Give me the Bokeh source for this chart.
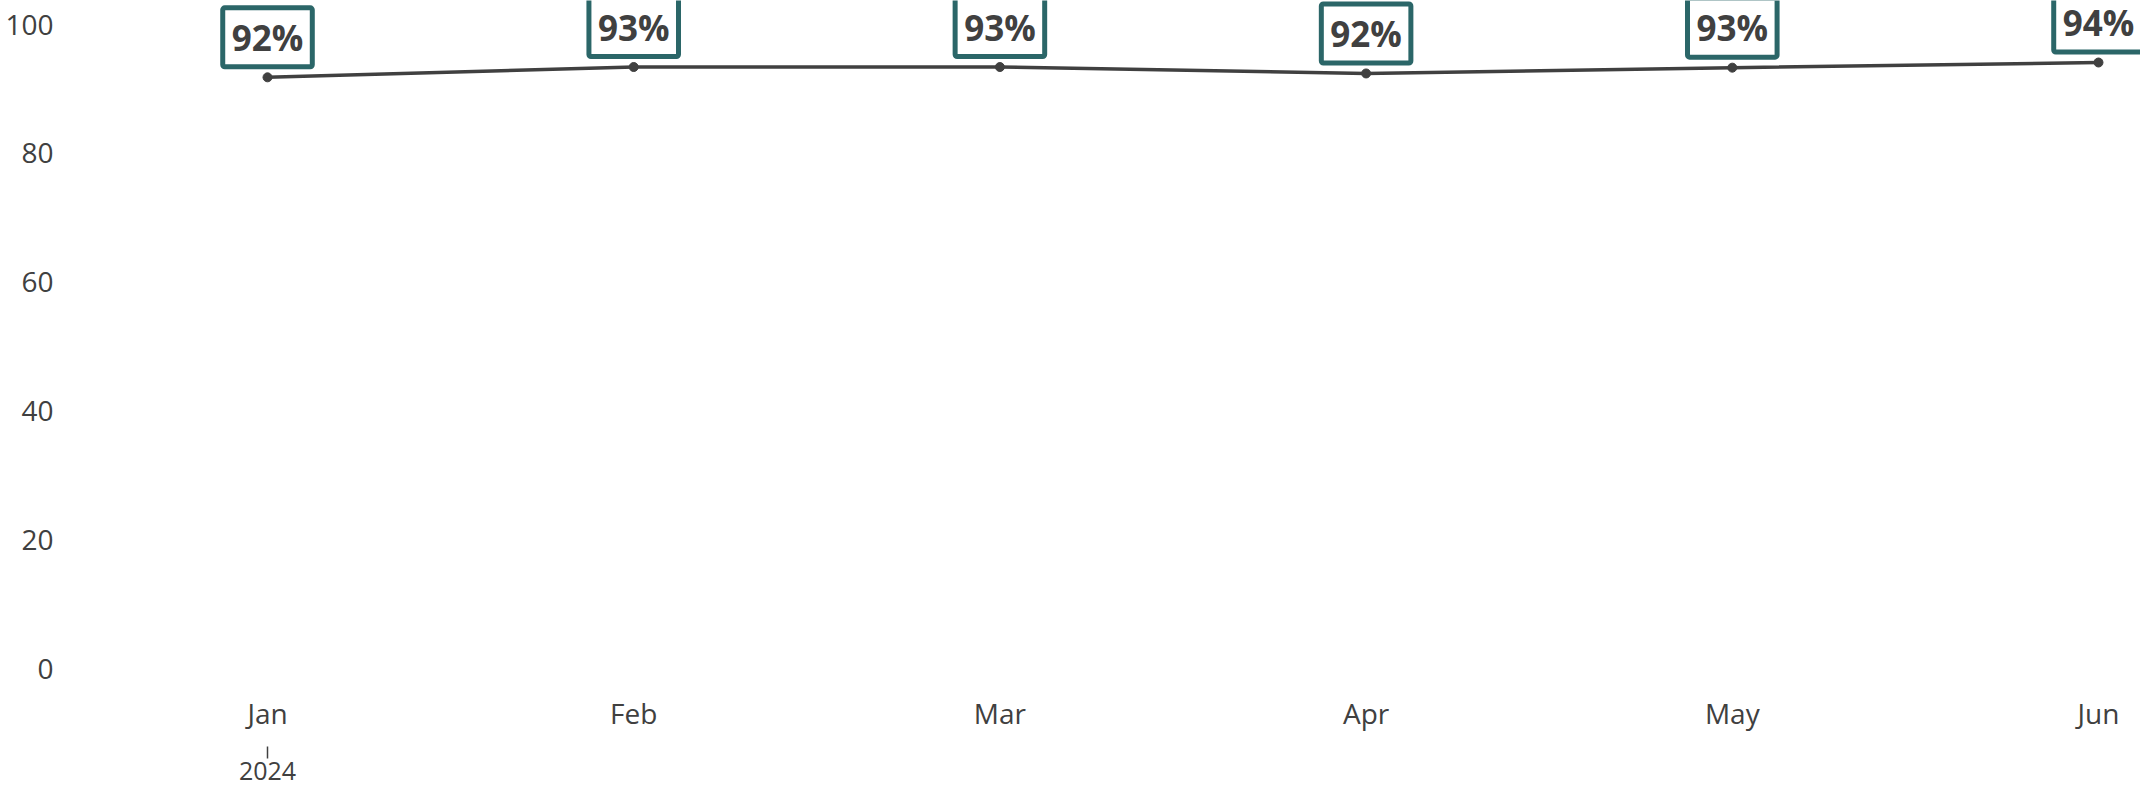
from bokeh.plotting import figure
from bokeh.models import ColumnDataSource, LinearAxis, FixedTicker, Range1d
from bokeh.core.properties import value
from bokeh.embed import file_html
from bokeh.resources import INLINE

# ---- data ----
months = ["Jan", "Feb", "Mar", "Apr", "May", "Jun"]
rates = [91.8, 93.4, 93.4, 92.4, 93.3, 94.1]
year_labels = ["2024"]
year_positions = [0]
y_ticks = [0, 20, 40, 60, 80, 100]

x = list(range(len(months)))
labels = [f"{round(v)}%" for v in rates]
src = ColumnDataSource(dict(x=x, y=rates, label=labels))

FONT = "Open Sans"
TXT = "#404040"
TEAL = "#2b6668"

p = figure(width=2140, height=786, output_backend="svg", toolbar_location=None,
           x_range=Range1d(-0.538, 5.1147), y_range=Range1d(0, 103.73),
           min_border_left=70, min_border_right=0, min_border_top=0,
           min_border_bottom=118)
p.outline_line_color = None
p.xgrid.visible = False
p.ygrid.visible = False

# y axis
ya = p.yaxis[0]
ya.ticker = FixedTicker(ticks=y_ticks)
ya.axis_line_color = None
ya.major_tick_line_color = None
ya.minor_tick_line_color = None
ya.major_tick_out = 0
ya.major_tick_in = 0
ya.major_label_standoff = 17
ya.major_label_text_font = FONT
ya.major_label_text_font_size = "28px"
ya.major_label_text_color = TXT

# x axis (months)
xa = p.xaxis[0]
xa.ticker = FixedTicker(ticks=x)
xa.major_label_overrides = {i: m for i, m in zip(x, months)}
xa.axis_line_color = None
xa.major_tick_line_color = None
xa.minor_tick_line_color = None
xa.major_tick_out = 0
xa.major_tick_in = 0
xa.major_label_standoff = 25
xa.major_label_text_font = FONT
xa.major_label_text_font_size = "28px"
xa.major_label_text_color = TXT

# second x axis (year)
xa2 = LinearAxis(ticker=FixedTicker(ticks=year_positions),
                 major_label_overrides={pos: yl for pos, yl in zip(year_positions, year_labels)})
xa2.axis_line_color = None
xa2.minor_tick_line_color = None
xa2.major_tick_line_color = TXT
xa2.major_tick_line_width = 1.5
xa2.major_tick_in = -12
xa2.major_tick_out = 24
xa2.major_label_standoff = 3
xa2.major_label_text_font = FONT
xa2.major_label_text_font_size = "25px"
xa2.major_label_text_color = TXT
p.add_layout(xa2, "below")

# line + markers
p.line("x", "y", source=src, line_color="#404040", line_width=3.5)
p.scatter("x", "y", source=src, size=9, fill_color="#404040", line_color="#404040")

p.text("x", "y", text="label", source=src, text_align="center",
       text_baseline="middle", y_offset=-40, text_font=value(FONT),
       text_font_style="bold", text_font_size="35px", text_color=TXT,
       background_fill_color="white", border_line_color=TEAL,
       border_line_width=5, padding=[9, 6], border_radius=2)

open("out.html", "w").write(file_html(p, INLINE))
